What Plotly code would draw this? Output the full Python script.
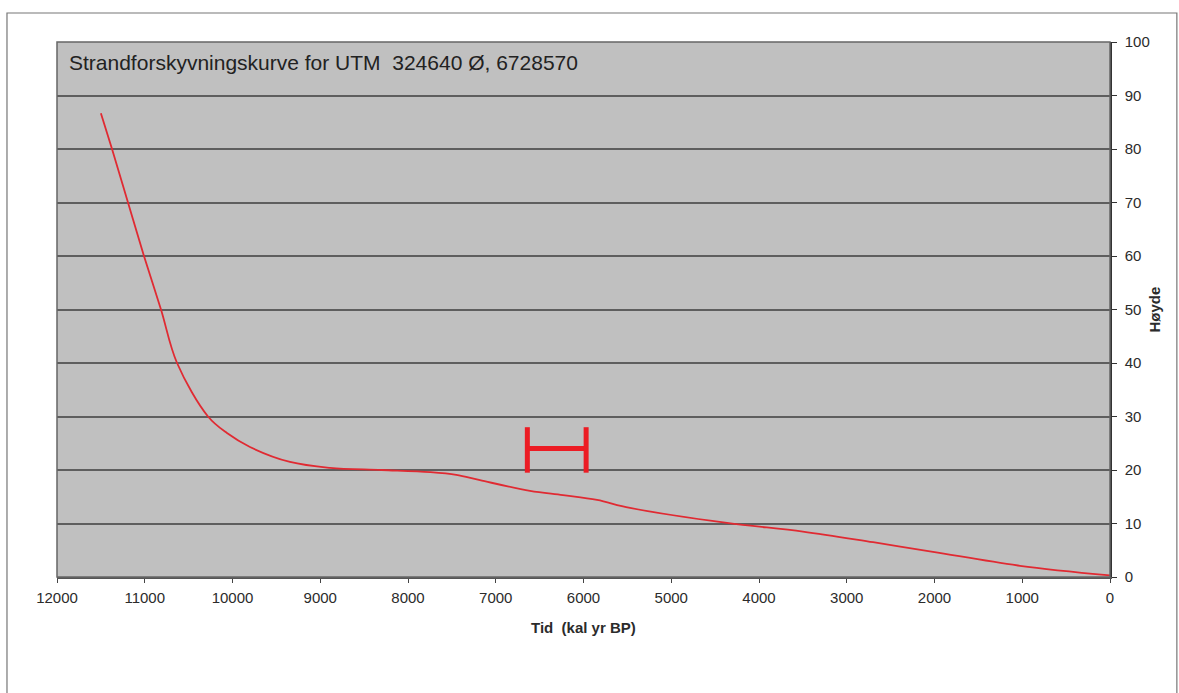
import plotly.graph_objects as go

# Shoreline displacement curve: age (cal yr BP) vs. elevation (m a.s.l.)
years = [11500, 11373, 11191, 11009, 10815, 10632, 10279, 10063, 9801, 9345,
         8889, 8300, 7749, 7450, 7180, 6610, 6234, 5846, 5470, 4365,
         3500, 2700, 2017, 1026, 0]
heights = [86.7, 80.0, 70.0, 60.0, 50.0, 40.0, 30.0, 26.9, 24.3, 21.5,
           20.4, 20.0, 19.6, 19.1, 18.1, 16.1, 15.3, 14.4, 12.9, 10.1,
           8.5, 6.5, 4.7, 2.1, 0.3]

# Dated interval marker (H-bar)
interval_years = [6640, 5970]
interval_low = 19.5
interval_high = 28.0
interval_mid = 24.0

x_ticks = list(range(0, 12001, 1000))
x_ticklabels = [str(v) for v in x_ticks]
y_ticks = list(range(0, 101, 10))

title_text = "Strandforskyvningskurve for UTM\u00a0 324640 Ø, 6728570"
x_title = "Tid\u00a0 (kal yr BP)"
y_title = "Høyde"

FONT = "Liberation Sans, Arial, sans-serif"
TEXT = "#2b2b2b"
GRID = "#5e5e5e"

fig = go.Figure()

fig.add_trace(go.Scatter(
    x=years, y=heights, mode="lines",
    line=dict(color="#e02a32", width=1.8, shape="spline", smoothing=1.0),
    hoverinfo="x+y", showlegend=False,
))

a, b = interval_years
fig.add_trace(go.Scatter(
    x=[a, a, None, a, b, None, b, b],
    y=[interval_high, interval_low, None, interval_mid, interval_mid, None,
       interval_high, interval_low],
    mode="lines", line=dict(color="#ec1c24", width=5),
    hoverinfo="skip", showlegend=False,
))

fig.update_layout(
    width=1179, height=693,
    margin=dict(l=57, r=69, t=42, b=116),
    paper_bgcolor="white", plot_bgcolor="#c0c0c0",
    font=dict(family=FONT, size=15, color=TEXT),
    xaxis=dict(
        range=[12000, 0], tickvals=x_ticks, ticktext=x_ticklabels,
        ticks="outside", ticklen=4,
        tickcolor="#444", tickwidth=1, showgrid=False, zeroline=False,
        showline=True, linecolor="#555", linewidth=2,
        tickfont=dict(size=15, color=TEXT), ticklabelstandoff=2,
    ),
    yaxis=dict(
        range=[0, 100], tickvals=y_ticks, side="right", ticks="outside",
        ticklen=5, tickcolor="#333", tickwidth=1,
        showgrid=True, gridcolor=GRID, gridwidth=2, zeroline=False,
        showline=True, linecolor="#333", linewidth=1.5,
        tickfont=dict(size=15, color=TEXT), ticklabelstandoff=5,
    ),
    shapes=[
        # plot area frame
        dict(type="rect", xref="paper", yref="paper", x0=0, x1=1, y0=0, y1=1,
             line=dict(color="#666", width=1.5), layer="above"),
        # outer chart frame
        dict(type="rect", xref="paper", yref="paper",
             x0=-0.0475, x1=1.0635, y0=-0.25, y1=1.0542,
             line=dict(color="#777", width=1.2)),
    ],
    annotations=[
        dict(text=title_text, xref="paper", yref="paper",
             x=0.0095, y=0.961, xanchor="left", yanchor="middle",
             showarrow=False, font=dict(size=21, color="#222")),
        dict(text=f"<b>{x_title}</b>", xref="paper", yref="paper",
             x=0.5, y=-0.095, xanchor="center", yanchor="middle",
             showarrow=False, font=dict(size=15, color=TEXT)),
        dict(text=f"<b>{y_title}</b>", xref="paper", yref="paper",
             x=1.0427, y=0.5, xanchor="center", yanchor="middle",
             textangle=-90, showarrow=False, font=dict(size=15, color=TEXT)),
    ],
)

fig.write_html("out.html")
